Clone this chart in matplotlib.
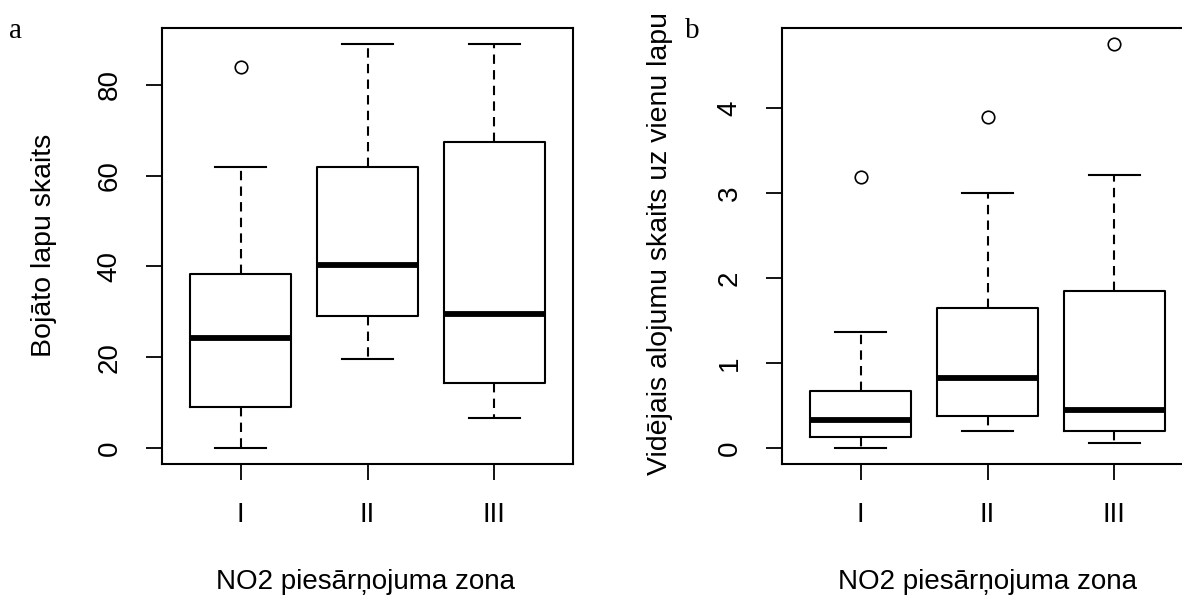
import matplotlib
matplotlib.use("Agg")
import matplotlib.pyplot as plt

# ---------------------------------------------------------------------------
# Data
# ---------------------------------------------------------------------------
ZONES = ["I", "II", "III"]

# panel a: Bojāto lapu skaits
A_WHISLO = [0.0, 19.5, 6.5]
A_Q1 = [8.9, 29.0, 14.4]
A_MED = [24.2, 40.3, 29.4]
A_Q3 = [38.3, 62.0, 67.5]
A_WHISHI = [62.0, 89.0, 89.0]
A_FLIERS = [[84.0], [], []]

# panel b: Vidējais alojumu skaits uz vienu lapu
B_WHISLO = [0.0, 0.2, 0.06]
B_Q1 = [0.13, 0.37, 0.2]
B_MED = [0.33, 0.82, 0.44]
B_Q3 = [0.67, 1.64, 1.85]
B_WHISHI = [1.36, 3.0, 3.21]
B_FLIERS = [[3.19], [3.89], [4.75]]

W, H = 1182, 599
SANS = "Liberation Sans"
SERIF = "Liberation Serif"
FS = 20          # tick labels / x titles
FS_Y = 20.5      # y titles


def stats(lo, q1, med, q3, hi, fliers):
    out = []
    for i in range(len(lo)):
        out.append({"whislo": lo[i], "q1": q1[i], "med": med[i], "q3": q3[i],
                    "whishi": hi[i], "fliers": fliers[i], "label": ZONES[i]})
    return out


def draw(ax, st, yticks):
    ax.bxp(st, positions=[1, 2, 3], widths=0.8, showfliers=True,
           boxprops=dict(color="black", linewidth=1.5),
           whiskerprops=dict(color="black", linewidth=1.5, linestyle=(0, (4.5, 3))),
           capprops=dict(color="black", linewidth=1.5),
           capwidths=0.4,
           medianprops=dict(color="black", linewidth=4.2, solid_capstyle="butt"),
           flierprops=dict(marker="o", markersize=9, markerfacecolor="none",
                           markeredgecolor="black", markeredgewidth=1.2))
    ax.set_xlim(0.38, 3.62)
    ax.set_xticks([1, 2, 3])
    ax.set_xticklabels(ZONES, fontsize=FS, family=SANS)
    ax.set_yticks(yticks)
    ax.set_yticklabels([f"{t:g}" for t in yticks], fontsize=FS, family=SANS,
                       rotation=90, va="center")
    ax.tick_params(axis="both", length=11.5, width=1.3, color="black")
    ax.tick_params(axis="y", pad=17)
    ax.tick_params(axis="x", pad=16)
    for s in ax.spines.values():
        s.set_linewidth(1.5)
        s.set_color("black")


fig = plt.figure(figsize=(W / 100, H / 100), dpi=100, facecolor="white")

ax1 = fig.add_axes([162 / W, 1 - 464 / H, 411 / W, 436 / H])
draw(ax1, stats(A_WHISLO, A_Q1, A_MED, A_Q3, A_WHISHI, A_FLIERS), [0, 20, 40, 60, 80])
ax1.set_ylim(-3.56, 92.56)

ax2 = fig.add_axes([782 / W, 1 - 464 / H, 411 / W, 436 / H])
draw(ax2, stats(B_WHISLO, B_Q1, B_MED, B_Q3, B_WHISHI, B_FLIERS), [0, 1, 2, 3, 4])
ax2.set_ylim(-0.19, 4.94)

# axis titles placed by pixel
fig.text(44 / W, 1 - 245 / H, "Bojāto lapu skaits", rotation=90,
         ha="center", va="center", fontsize=FS_Y, family=SANS)
fig.text(660 / W, 1 - 244 / H, "Vidējais alojumu skaits uz vienu lapu", rotation=90,
         ha="center", va="center", fontsize=FS_Y, family=SANS)
fig.text(366 / W, 1 - 582 / H, "NO2 piesārņojuma zona",
         ha="center", va="center", fontsize=FS, family=SANS)
fig.text(987 / W, 1 - 582 / H, "NO2 piesārņojuma zona",
         ha="center", va="center", fontsize=FS, family=SANS)

# panel letters
fig.text(9 / W, 1 - 38 / H, "a", ha="left", va="baseline", fontsize=21, family=SERIF)
fig.text(685 / W, 1 - 38 / H, "b", ha="left", va="baseline", fontsize=21, family=SERIF)

fig.savefig("out.png", dpi=100, facecolor="white")
plt.close(fig)
